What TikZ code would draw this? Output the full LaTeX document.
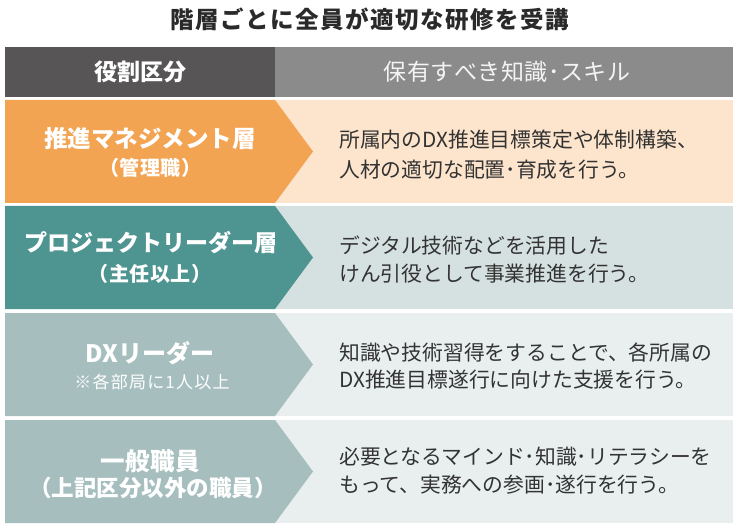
\documentclass[tikz,border=0pt]{standalone}
\usepackage{fontspec}
\setmainfont{Noto Sans CJK JP}
\makeatletter
\newcommand\lsp[2]{\def\lsp@k{#1}\lsp@loop#2\relax\kern-#1\relax}
\def\lsp@loop#1{\ifx\relax#1\else#1\kern\lsp@k\relax\expandafter\lsp@loop\fi}
\makeatother
\definecolor{hdark}{HTML}{575556}
\definecolor{hgray}{HTML}{8B8B8B}
\definecolor{orng}{HTML}{F2A452}
\definecolor{orngl}{HTML}{FDE5CD}
\definecolor{tealD}{HTML}{4E9592}
\definecolor{tealL}{HTML}{D5E1E0}
\definecolor{sage}{HTML}{A6BFBE}
\definecolor{sageL}{HTML}{E9EFEF}
\definecolor{txt}{HTML}{333333}
\definecolor{ttl}{HTML}{2A2A2A}
\definecolor{hdtxt}{HTML}{F4F4F4}
\tikzset{
  ttlbox/.style={inner sep=0pt, text=ttl, font=\bfseries\fontsize{23.5}{26}\selectfont},
  hdl/.style={inner sep=0pt, text=white, font=\bfseries\fontsize{23}{26}\selectfont},
  hdr/.style={inner sep=0pt, text=hdtxt, font=\fontsize{23}{26}\selectfont},
  lmain/.style={inner sep=0pt, text=white, font=\bfseries\fontsize{23.5}{26}\selectfont},
  lsub/.style={inner sep=0pt, text=white, font=\bfseries\fontsize{20}{22}\selectfont},
  lnote/.style={inner sep=0pt, text=white, font=\fontsize{17}{20}\selectfont},
  rtxt/.style={anchor=west, inner sep=0pt, text=txt, font=\fontsize{20.8}{24}\selectfont},
}
\begin{document}
\begin{tikzpicture}[x=1pt,y=-1pt]
\useasboundingbox (0,0) rectangle (737,532);
\fill[white] (0,0) rectangle (737,532);
% title
\node[ttlbox] (title) at (370,19) {\lsp{1.5pt}{階層ごとに全員が適切な研修を受講}};
% header
\fill[hdark] (5,47) rectangle (275,97);
\fill[hgray] (275,47) rectangle (733,97);
\node[hdl] (h1) at (140,72) {役割区分};
\node[hdr] (h2) at (507,72) {\lsp{0.5pt}{保有すべき知識･スキル}};
% row 1
\fill[orngl] (5,100) rectangle (733,203);
\fill[orng] (5,100) -- (275,100) -- (313,151.5) -- (275,203) -- (5,203) -- cycle;
\node[lmain] (r1a) at (150,139) {推進マネジメント層};
\node[lsub] (r1b) at (150,168) {\lsp{0.5pt}{（管理職）}};
\node[rtxt] (r1c) at (339,139.5) {所属内のDX推進目標策定や体制構築、};
\node[rtxt] (r1d) at (339,170) {人材の適切な配置･育成を行う。};
% row 2
\fill[tealL] (5,206) rectangle (733,309);
\fill[tealD] (5,206) -- (275,206) -- (313,257.5) -- (275,309) -- (5,309) -- cycle;
\node[lmain, font=\bfseries\fontsize{23}{26}\selectfont] (r2a) at (151,243) {プロジェクトリーダー層};
\node[lsub] (r2b) at (150,274) {\lsp{0.5pt}{（主任以上）}};
\node[rtxt] (r2c) at (339,246) {デジタル技術などを活用した};
\node[rtxt] (r2d) at (339,274) {けん引役として事業推進を行う。};
% row 3
\fill[sageL] (5,313) rectangle (733,416);
\fill[sage] (5,313) -- (275,313) -- (313,364.5) -- (275,416) -- (5,416) -- cycle;
\node[lmain, font=\bfseries\fontsize{24}{26}\selectfont] (r3a) at (150,353) {DXリーダー};
\node[lnote] (r3b) at (152,382) {\lsp{1.2pt}{※各部局に1人以上}};
\node[rtxt] (r3c) at (339,353) {知識や技術習得をすることで、各所属の};
\node[rtxt] (r3d) at (339,380) {DX推進目標遂行に向けた支援を行う。};
% row 4
\fill[sageL] (5,420) rectangle (733,523);
\fill[sage] (5,420) -- (275,420) -- (313,471.5) -- (275,523) -- (5,523) -- cycle;
\node[lmain, font=\bfseries\fontsize{24.5}{26}\selectfont] (r4a) at (150,461) {\lsp{0.5pt}{一般職員}};
\node[lsub, font=\bfseries\fontsize{22.5}{24}\selectfont] (r4b) at (153,488) {（上記区分以外の職員）};
\node[rtxt] (r4c) at (339,457) {必要となるマインド･知識･リテラシーを};
\node[rtxt] (r4d) at (339,485) {もって、実務への参画･遂行を行う。};
\end{tikzpicture}
\end{document}
